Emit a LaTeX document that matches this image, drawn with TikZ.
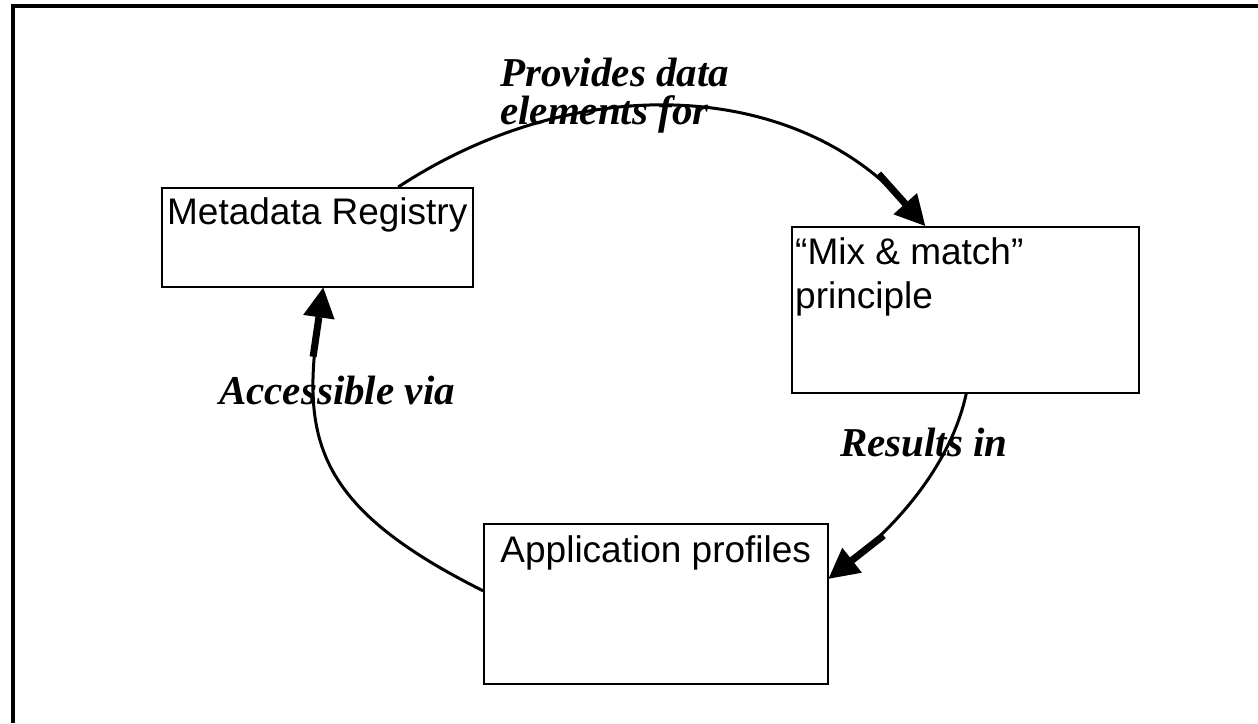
\documentclass[tikz,border=0pt]{standalone}
\usepackage{fontspec}
\setmainfont{Liberation Serif}
\setsansfont{Liberation Sans}
\usetikzlibrary{arrows.meta,calc}

\begin{document}
\begin{tikzpicture}[x=1pt,y=-1pt,
    box/.style={draw, line width=1.5pt, inner sep=0pt, anchor=north west},
    boxtext/.style={font=\sffamily\fontsize{37}{44}\selectfont, inner sep=0pt},
    flowlabel/.style={font=\bfseries\itshape\fontsize{41}{38}\selectfont, inner sep=0pt},
    flow/.style={line width=3pt, -{Rectangle[length=40pt,width=7pt]Triangle[length=30pt,width=31pt]}}]
\useasboundingbox (0,0) rectangle (1258,723);
\draw[line width=4pt] (13,723) -- (13,6) -- (1258,6);

% the three boxes
\node[box, minimum width=311pt, minimum height=99pt] (registry) at (161,187) {};
\node[boxtext, anchor=north] (registry-text) at ([yshift=-10pt]registry.north) {Metadata Registry};
\node[box, minimum width=347pt, minimum height=166pt] (mix) at (791,226) {};
\node[boxtext, anchor=north west, align=left] (mix-text) at ([xshift=4pt,yshift=-11pt]mix.north west) {“Mix \& match”\\principle};
\node[box, minimum width=344pt, minimum height=160pt] (app) at (483,523) {};
\node[boxtext, anchor=north] (app-text) at ([yshift=-12pt]app.north) {Application profiles};

% labels on the cycle
\node[flowlabel, anchor=north west, align=left] (provides) at (500,58) {Provides data\\elements for};
\node[flowlabel, anchor=west] (accessible) at (219,390) {Accessible via};
\node[flowlabel, anchor=west] (results) at (840,443) {Results in};

\draw[flow] ([xshift=81pt]registry.north) .. controls +(180,-118) and +(-130,-145) .. ([xshift=-40pt]mix.north);
\draw[flow] ([xshift=1pt]mix.south) .. controls +(-15,70) and +(70,-55) .. ([yshift=25pt]app.east);
\draw[flow] ([yshift=13pt]app.west) .. controls +(-170,-85) and +(-22,150) .. ([xshift=6pt]registry.south);
\end{tikzpicture}
\end{document}
